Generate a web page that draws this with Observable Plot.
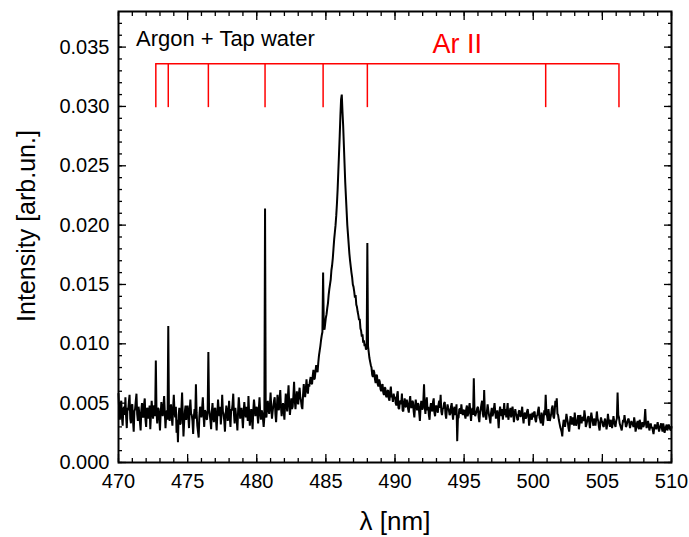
<!DOCTYPE html>
<html>
<head>
<meta charset="utf-8">
<script src="https://cdn.jsdelivr.net/npm/d3@7"></script>
<script src="https://cdn.jsdelivr.net/npm/@observablehq/plot@0.6"></script>
<style>
  html, body { margin: 0; padding: 0; background: #fff; }
</style>
</head>
<body>
<div id="chart"></div>
<script>
// Spectrum sampled every 0.05 nm starting at 470 nm.
// Intensities are given in units of 1e-4 arb.un. (rows of 10 = 0.5 nm)
const lambdaStart = 470;
const lambdaStep = 0.05;

const int470 = [
  58,44,36,49,52,38,31,45,47,40,
  55,39,29,46,44,51,57,37,33,48,
  49,35,26,43,45,52,58,41,35,47,
  42,34,27,44,50,39,38,49,54,36,
  30,45,46,37,41,48,28,40,52,43,
  37,47,48,39,86,42,33,46,45,38,
  27,41,51,44,39,47,56,42,29,40,
  44,36,115,41,35,46,49,38,31,45,
  57,43,38,47,25,36,17,40,46,32,
  33,45,59,39,22,34,43,48,36,41];
const int475 = [
  48,39,29,44,53,41,40,35,24,38,
  45,37,66,42,31,26,21,39,47,43,
  38,46,55,40,30,44,43,37,36,42,
  93,45,41,35,28,43,50,38,34,45,
  46,36,27,41,53,44,39,47,32,40,
  57,43,41,35,26,40,48,44,35,39,
  52,38,30,45,44,49,58,41,33,46,
  40,36,27,43,55,47,37,42,46,38,
  29,42,51,44,38,47,43,35,56,41,
  31,40,45,37,28,44,53,46,39,43];
const int480 = [
  47,40,33,45,55,42,36,44,42,37,
  30,38,214,40,38,47,52,44,41,48,
  59,46,37,43,48,52,55,41,34,45,
  57,49,44,53,61,47,39,46,50,43,
  36,48,58,51,43,55,65,49,40,47,
  54,45,47,56,68,52,45,53,60,51,
  49,58,63,55,52,47,45,57,66,59,
  55,62,70,61,58,66,64,69,72,67,
  66,73,78,70,71,77,82,79,76,84,
  90,94,98,103,107,110,160,113,112,117];
const int485 = [
  122,125,130,134,141,146,150,154,162,166,
  172,180,188,194,200,208,218,230,245,260,
  275,292,306,310,296,284,268,252,236,224,
  212,200,192,184,176,170,165,160,156,150,
  148,144,139,141,133,131,127,124,120,121,
  113,111,106,108,101,103,98,100,95,97,
  185,98,93,88,85,82,80,74,72,78,
  76,70,67,74,73,66,64,70,68,62,
  60,65,66,59,57,63,63,56,55,60,
  61,54,52,59,64,55,56,51,58,55];
const int490 = [
  55,50,48,57,60,46,45,51,52,49,
  58,44,43,50,54,47,47,53,50,45,
  42,51,56,47,46,52,51,43,38,47,
  53,48,44,50,49,42,35,46,52,45,
  45,52,66,47,41,49,55,44,47,40,
  36,46,50,45,43,51,54,42,39,47,
  48,44,42,49,52,46,57,43,40,45,
  46,50,51,41,37,44,49,46,44,40,
  41,47,50,42,36,44,47,40,43,49,
  18,37,38,45,45,41,49,43,40,44];
const int495 = [
  44,40,37,45,48,39,41,46,50,42,
  35,43,46,40,71,44,39,41,43,46,
  47,38,34,42,45,49,52,41,38,61,
  42,40,36,43,49,44,40,37,33,42,
  46,39,41,45,50,43,37,40,44,38,
  29,41,47,43,39,45,36,42,50,40,
  45,38,44,50,36,40,43,46,38,41,
  47,42,34,39,45,41,40,36,36,43,
  44,39,39,42,47,38,33,40,42,37,
  38,43,45,40,31,37,41,39,36,42];
const int500 = [
  38,42,43,36,34,39,40,44,47,38,
  36,33,42,39,31,37,44,40,57,42,
  39,35,45,40,35,38,41,46,48,39,
  37,43,52,47,54,41,40,36,33,30,
  28,26,22,31,36,33,30,35,41,37,
  34,29,26,33,39,35,32,38,37,31,
  42,36,31,34,36,40,28,33,40,37,
  33,38,38,35,44,39,30,32,35,38,
  39,34,29,36,42,38,34,31,37,35,
  31,36,43,37,35,30,27,33,38,35];
const int505 = [
  34,31,30,35,37,33,28,32,41,36,
  33,30,36,34,29,33,39,35,32,30,
  35,37,59,40,38,33,31,29,27,32,
  36,34,40,35,30,31,34,36,37,33,
  29,32,35,33,32,30,38,34,26,29,
  33,35,30,28,36,33,28,31,34,30,
  31,36,45,33,29,31,35,32,27,30,
  33,29,30,27,24,29,32,30,28,31,
  34,30,26,29,31,33,29,26,33,30,
  25,28,30,32,27,29,32,30,28,27,
  30];

// Ar II line positions (nm) and the bracket levels
const arIILines = [472.7, 473.6, 476.5, 480.6, 484.8, 488.0, 500.9, 506.2];
const arBracketTop = 0.0336;
const arBracketBottom = 0.0299;
const arLabel = "Ar II";
const arLabelPos = {x: 494.5, y: 0.0352};
const sampleLabel = "Argon + Tap water";

// Axis ticks
const xMajor = [470, 475, 480, 485, 490, 495, 500, 505, 510];
const xMinor = d3.range(470, 511, 1);
const yMajor = [0, 0.005, 0.010, 0.015, 0.020, 0.025, 0.030, 0.035];
const yMinor = d3.range(0, 38).map(i => i / 1000);
const xTitle = "λ [nm]";
const yTitle = "Intensity [arb.un.]";

const intensities = [].concat(int470, int475, int480, int485, int490, int495, int500, int505);
const spectrum = intensities.map((v, i) => ({
  lambda: +(lambdaStart + i * lambdaStep).toFixed(3),
  intensity: v / 1e4
}));

const font = "'Liberation Sans', Arial, sans-serif";
const empty = () => "";

const chart = Plot.plot({
  width: 689,
  height: 537,
  marginLeft: 118,
  marginRight: 18,
  marginTop: 11,
  marginBottom: 75,
  style: {fontFamily: font, fontSize: "20px", color: "#000", background: "#fff"},
  x: {domain: [470, 510]},
  y: {domain: [0, 0.038]},
  marks: [
    // minor ticks (inward)
    Plot.axisX({anchor: "bottom", ticks: xMinor, tickSize: -4, tickFormat: empty, label: null, strokeWidth: 1.3}),
    Plot.axisX({anchor: "top", ticks: xMinor, tickSize: -4, tickFormat: empty, label: null, strokeWidth: 1.3}),
    Plot.axisY({anchor: "left", ticks: yMinor, tickSize: -4, tickFormat: empty, label: null, strokeWidth: 1.3}),
    Plot.axisY({anchor: "right", ticks: yMinor, tickSize: -4, tickFormat: empty, label: null, strokeWidth: 1.3}),
    // major ticks
    Plot.axisX({anchor: "bottom", ticks: xMajor, tickSize: -8, tickPadding: 19, tickFormat: d3.format("d"), label: null, strokeWidth: 1.3, fontSize: 20}),
    Plot.axisX({anchor: "top", ticks: xMajor, tickSize: -8, tickFormat: empty, label: null, strokeWidth: 1.3}),
    Plot.axisY({anchor: "left", ticks: yMajor, tickSize: -8, tickPadding: 17, tickFormat: d3.format(".3f"), label: null, strokeWidth: 1.3, fontSize: 20}),
    Plot.axisY({anchor: "right", ticks: yMajor, tickSize: -8, tickFormat: empty, label: null, strokeWidth: 1.3}),
    // spectrum
    Plot.line(spectrum, {x: "lambda", y: "intensity", stroke: "#000", strokeWidth: 2, strokeLinejoin: "miter"}),
    // Ar II bracket
    Plot.ruleY([arBracketTop], {x1: d3.min(arIILines), x2: d3.max(arIILines), stroke: "#ff0000", strokeWidth: 1.5}),
    Plot.ruleX(arIILines, {x: d => d, y1: arBracketBottom, y2: arBracketTop, stroke: "#ff0000", strokeWidth: 1.5}),
    Plot.text([arLabel], {x: arLabelPos.x, y: arLabelPos.y, text: d => d, fill: "#ff0000", fontSize: 27, textAnchor: "middle", lineAnchor: "middle"}),
    Plot.text([sampleLabel], {frameAnchor: "top-left", dx: 17.5, dy: 27.5, text: d => d, fill: "#000", fontSize: 22, textAnchor: "start", lineAnchor: "middle"}),
    // titles
    Plot.text([xTitle], {frameAnchor: "bottom", dy: 59, text: d => d, fontSize: 26, lineAnchor: "middle"}),
    Plot.text([yTitle], {frameAnchor: "left", dx: -92, dy: -11, rotate: -90, text: d => d, fontSize: 25, textAnchor: "middle", lineAnchor: "middle"}),
    Plot.frame({stroke: "#000", strokeWidth: 2})
  ]
});

document.getElementById("chart").appendChild(chart);
</script>
</body>
</html>
